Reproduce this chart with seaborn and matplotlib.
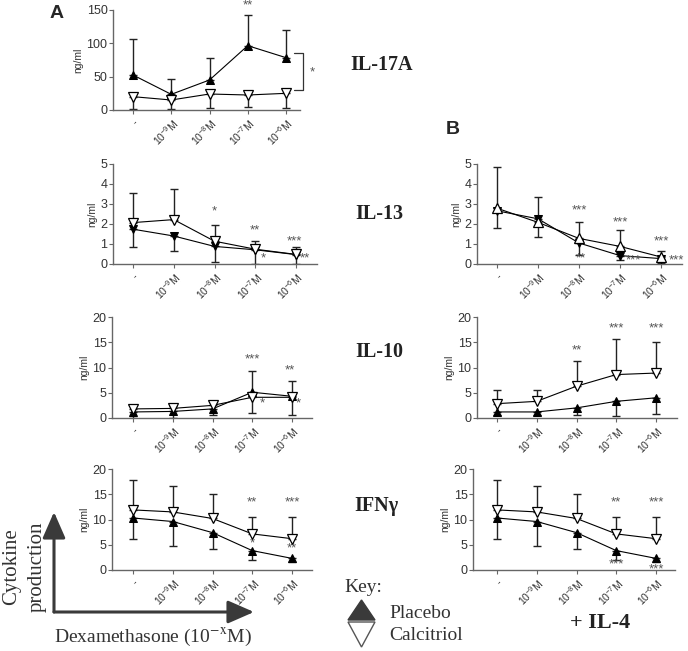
import numpy as np
import pandas as pd
import seaborn as sns
import matplotlib.pyplot as plt
from matplotlib.patches import FancyArrowPatch, Polygon

sns.set_style('ticks')
plt.rcParams['font.family'] = ['Liberation Sans', 'DejaVu Sans']
plt.rcParams['mathtext.fontset'] = 'custom'
plt.rcParams['mathtext.rm'] = 'Liberation Sans'
plt.rcParams['mathtext.it'] = 'Liberation Sans:italic'

W, H = 688, 651
doses = ['-', '$10^{-9}$M', '$10^{-8}$M', '$10^{-7}$M', '$10^{-6}$M']

# --- data (mean and whisker end) ---
# IL-17A, no IL-4
il17_plac = [52.5, 23.5, 45, 96.5, 78.5]
il17_plac_end = [106.5, 47, 78.5, 142.5, 120]
il17_calc = [20, 15, 24, 22.5, 25]
il17_calc_end = [1, 1, 3.5, 4, 2.5]

# IL-13, no IL-4
il13_plac = [1.74, 1.40, 0.88, 0.71, 0.47]
il13_plac_end = [0.85, 0.63, 0.1, 0, 0]
il13_calc = [2.07, 2.22, 1.14, 0.74, 0.48]
il13_calc_end = [3.57, 3.74, 1.96, 1.13, 0.85]

# IL-13 + IL-4
il13b_plac = [2.66, 2.26, 1.05, 0.42, 0.27]
il13b_plac_end = [1.79, 1.35, 0.47, 0.18, 0.05]
il13b_calc = [2.79, 2.08, 1.28, 0.88, 0.35]
il13b_calc_end = [4.83, 3.34, 2.09, 1.68, 0.63]

# IL-10, no IL-4
il10_plac = [1.2, 1.3, 1.8, 5.1, 4.3]
il10_plac_end = [2.6, 2.3, 3.1, 9.4, 7.3]
il10_calc = [1.8, 1.9, 2.5, 4.1, 4.1]
il10_calc_end = [0, 0, 0.5, 1.05, 0.65]

# IL-10 + IL-4
il10b_plac = [1.2, 1.2, 2.0, 3.3, 4.0]
il10b_plac_end = [0.5, 0.5, 0.6, 0.3, 0.7]
il10b_calc = [2.84, 3.3, 6.3, 8.6, 8.9]
il10b_calc_end = [5.6, 5.6, 11.3, 15.7, 15.0]

# IFNg (same in both columns)
ifn_plac = [10.3, 9.6, 7.4, 3.84, 2.3]
ifn_plac_end = [6.2, 4.8, 4.2, 2.0, 1.5]
ifn_calc = [11.9, 11.5, 10.2, 7.15, 6.2]
ifn_calc_end = [17.8, 16.6, 15.0, 10.4, 10.4]

# significance marks: (x, y, text)
il17_stars = [(3, 157, '**')]
il13_stars = [(2, 2.65, '*'), (3, 1.7, '**'), (3.2, 0.3, '*'), (3.95, 1.13, '***'), (4.22, 0.3, '**')]
il13b_stars = [(2, 2.66, '***'), (2.05, 0.3, '**'), (3, 2.08, '***'), (3.32, 0.18, '***'),
               (4, 1.13, '***'), (4.38, 0.2, '***')]
il10_stars = [(3, 11.6, '***'), (3.25, 2.8, '*'), (3.95, 9.4, '**'), (4.15, 2.8, '*')]
il10b_stars = [(2, 13.4, '**'), (3, 17.7, '***'), (4, 17.7, '***')]
ifn_stars = [(3, 13.4, '**'), (3, 5.2, '*'), (4, 13.4, '***'), (4, 4.3, '**')]
ifnb_stars = [(3, 13.4, '**'), (3, 1.1, '***'), (4, 13.4, '***'), (4, 0.2, '***')]

fig = plt.figure(figsize=(W / 100, H / 100), dpi=100)
star_col = '#555555'
axis_col = '#666666'


def fx(x):
    return x / W


def fy(y):
    return 1 - y / H


def draw_panel(box, ylim, yticks, plac, plac_end, calc, calc_end,
               m_plac='^', m_calc='v', stars=()):
    x0, x1, t0, t4, top, bot = box
    step = (t4 - t0) / 4
    ax = fig.add_axes([fx(x0), fy(bot), (x1 - x0) / W, (bot - top) / H])
    x = np.arange(5)
    for vals, ends in ((plac, plac_end), (calc, calc_end)):
        v = np.array(vals, float)
        e = np.array(ends, float)
        lo = np.clip(v - e, 0, None)
        hi = np.clip(e - v, 0, None)
        ax.errorbar(x, v, yerr=[lo, hi], fmt='none', ecolor='#222222',
                    elinewidth=1, capsize=3, capthick=1, zorder=2)
    sns.lineplot(x=x, y=plac, ax=ax, color='black', lw=0.8, marker=m_plac,
                 markersize=6, markerfacecolor='black', markeredgecolor='black',
                 legend=False, zorder=3)
    sns.lineplot(x=x, y=calc, ax=ax, color='black', lw=0.8, marker=m_calc,
                 markersize=7, markerfacecolor='white', markeredgecolor='black',
                 markeredgewidth=0.9, legend=False, zorder=4)
    for sx, sy, s in stars:
        ax.text(sx, sy, s, ha='center', va='center', fontsize=9.5,
                color=star_col, clip_on=False)
    ax.set_xlim((x0 - t0) / step, 4 + (x1 - t4) / step)
    ax.set_ylim(*ylim)
    ax.set_yticks(yticks)
    ax.set_xticks(x)
    ax.set_xticklabels(doses, rotation=45, ha='right', rotation_mode='anchor',
                       fontsize=7.5, color='#333333')
    ax.tick_params(axis='y', labelsize=9, labelcolor='#333333', length=3,
                   color=axis_col, pad=1)
    ax.tick_params(axis='x', length=3, color=axis_col, pad=2)
    ax.set_ylabel('ng/ml', fontsize=7.5, color='#333333', labelpad=2)
    ax.set_xlabel('')
    for sp in ['top', 'right']:
        ax.spines[sp].set_visible(False)
    for sp in ['left', 'bottom']:
        ax.spines[sp].set_color(axis_col)
        ax.spines[sp].set_linewidth(1)
    return ax


ax17 = draw_panel((113, 300, 133, 286, 10, 110), (0, 150), [0, 50, 100, 150],
                  il17_plac, il17_plac_end, il17_calc, il17_calc_end, stars=il17_stars)
# bracket between the two IL-17A series
ax17.plot([4.21, 4.44, 4.44, 4.21], [85, 85, 30, 30], color='#333333', lw=0.9, clip_on=False)
ax17.text(4.68, 57, '*', ha='center', va='center', fontsize=9.5, color=star_col, clip_on=False)

draw_panel((113, 317, 133, 296, 164, 264), (0, 5), range(6),
           il13_plac, il13_plac_end, il13_calc, il13_calc_end,
           m_plac='v', m_calc='v', stars=il13_stars)
draw_panel((477, 682, 497, 661, 164, 264), (0, 5), range(6),
           il13b_plac, il13b_plac_end, il13b_calc, il13b_calc_end,
           m_plac='v', m_calc='^', stars=il13b_stars)
draw_panel((112, 312, 133, 292, 317, 418), (0, 20), [0, 5, 10, 15, 20],
           il10_plac, il10_plac_end, il10_calc, il10_calc_end, stars=il10_stars)
draw_panel((477, 677, 497, 656, 317, 418), (0, 20), [0, 5, 10, 15, 20],
           il10b_plac, il10b_plac_end, il10b_calc, il10b_calc_end, stars=il10b_stars)
draw_panel((112, 312, 133, 292, 469, 570), (0, 20), [0, 5, 10, 15, 20],
           ifn_plac, ifn_plac_end, ifn_calc, ifn_calc_end, stars=ifn_stars)
draw_panel((473, 675, 497, 656, 469, 570), (0, 20), [0, 5, 10, 15, 20],
           ifn_plac, ifn_plac_end, ifn_calc, ifn_calc_end, stars=ifnb_stars)

serif = ['Liberation Serif', 'DejaVu Serif']
for txt, (px, py) in {'IL-17A': (382, 65), 'IL-13': (379, 214),
                      'IL-10': (379, 352), 'IFNγ': (376, 506)}.items():
    fig.text(fx(px), fy(py), txt, family=serif, fontweight='bold', fontsize=14.5,
             ha='center', va='center', color='#222222')

fig.text(fx(57), fy(14), 'A', fontweight='bold', fontsize=14, ha='center', va='center')
fig.text(fx(453), fy(130), 'B', fontweight='bold', fontsize=14, ha='center', va='center')
fig.text(fx(600), fy(623), '+ IL-4', family=serif, fontweight='bold', fontsize=16,
         ha='center', va='center', color='#222222')

# schematic axes arrows
arrow_col = '#3a3a3a'
for end in [(54, 512), (254, 612)]:
    fig.add_artist(FancyArrowPatch((fx(54), fy(612)), (fx(end[0]), fy(end[1])),
                                   transform=fig.transFigure,
                                   arrowstyle='-|>,head_length=1.6,head_width=0.7',
                                   mutation_scale=10, color=arrow_col, lw=2.2,
                                   shrinkA=0, shrinkB=0))
fig.text(fx(12), fy(567), 'Cytokine', family=serif, fontsize=15, rotation=90,
         ha='center', va='center', color='#333333')
fig.text(fx(37), fy(567), 'production', family=serif, fontsize=15, rotation=90,
         ha='center', va='center', color='#333333')
t = fig.text(fx(153), fy(637), r'Dexamethasone (10$^{-\mathrm{x}}$M)', family=serif,
             fontsize=14, ha='center', va='center', color='#333333')
t.set_math_fontfamily('stix')

# key
fig.add_artist(Polygon([(fx(348), fy(620)), (fx(375), fy(620)), (fx(361.5), fy(600))],
                       closed=True, transform=fig.transFigure,
                       facecolor=arrow_col, edgecolor=arrow_col, lw=1))
fig.add_artist(Polygon([(fx(348), fy(622)), (fx(375), fy(622)), (fx(361.5), fy(647))],
                       closed=True, transform=fig.transFigure,
                       facecolor='white', edgecolor='#555555', lw=1))
fig.text(fx(344), fy(588), 'Key:', family=serif, fontsize=14, ha='left', va='center',
         color='#333333')
fig.text(fx(389), fy(613), 'Placebo', family=serif, fontsize=14, ha='left', va='center',
         color='#333333')
fig.text(fx(389), fy(636), 'Calcitriol', family=serif, fontsize=14, ha='left', va='center',
         color='#333333')

fig.savefig('out.png', dpi=100)
